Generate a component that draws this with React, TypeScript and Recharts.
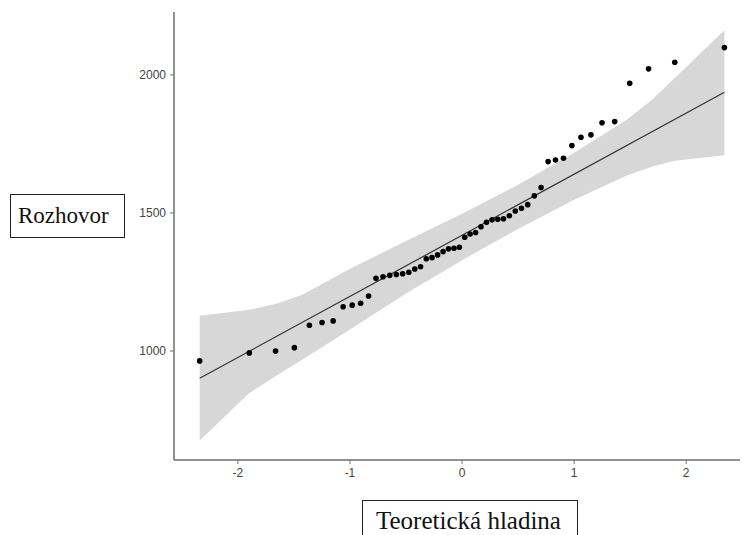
import React from "react"
import { ComposedChart, Area, Line, Scatter, XAxis, YAxis } from "recharts"

// theoretical normal quantiles (x) and sorted sample values (y)
const theoretical = [
  -2.341, -1.898, -1.664, -1.496, -1.362, -1.249, -1.15, -1.061, -0.98, -0.905,
  -0.834, -0.768, -0.705, -0.645, -0.586, -0.53, -0.475, -0.422, -0.37, -0.319,
  -0.268, -0.218, -0.169, -0.121, -0.072, -0.024, 0.024, 0.072, 0.121, 0.169,
  0.218, 0.268, 0.319, 0.37, 0.422, 0.475, 0.53, 0.586, 0.645, 0.705,
  0.768, 0.834, 0.905, 0.98, 1.061, 1.15, 1.249, 1.362, 1.496, 1.664,
  1.898, 2.341,
]
const rozhovor = [
  964, 993, 1000, 1012, 1093, 1103, 1109, 1160, 1166, 1173,
  1199, 1263, 1269, 1274, 1277, 1280, 1285, 1297, 1305, 1334,
  1338, 1348, 1360, 1370, 1372, 1376, 1412, 1424, 1429, 1450,
  1466, 1475, 1477, 1479, 1490, 1507, 1517, 1530, 1562, 1592,
  1686, 1692, 1698, 1744, 1774, 1783, 1827, 1831, 1970, 2022,
  2046, 2099,
]

// confidence band, read at a few x positions
const bandX = [-2.341, -1.898, -1.65, -1.42, -1.0, -0.5, 0, 0.5, 1.0, 1.47, 1.7, 1.898, 2.341]
const bandLower = [676, 848, 912, 970, 1078, 1208, 1329, 1442, 1548, 1636, 1668, 1689, 1709]
const bandUpper = [1128, 1149, 1172, 1205, 1298, 1398, 1497, 1602, 1718, 1838, 1912, 1989, 2162]

// reference line end points
const fitStart = 901
const fitEnd = 1937

const xTicks = [-2, -1, 0, 1, 2]
const yTicks = [1000, 1500, 2000]

const points = theoretical.map((x, i) => ({ x, y: rozhovor[i] }))
const bandRows = bandX.map((x, i) => ({
  x,
  band: [bandLower[i], bandUpper[i]],
  fit: i === 0 ? fitStart : i === bandX.length - 1 ? fitEnd : null,
}))

const AXIS = "#6e6e6e"
const tickStyle = { fill: "#444", fontSize: 12, fontFamily: "Liberation Sans, Arial, sans-serif" }

const Dot = (props: any) => <circle cx={props.cx} cy={props.cy} r={2.8} fill="#000" />

export default function App() {
  return (
    <div style={{ position: "absolute", left: 0, top: 0, width: 744, height: 535, background: "#fff", overflow: "hidden" }}>
      <ComposedChart width={744} height={535} data={bandRows} margin={{ top: 12, right: 4, left: 0, bottom: 0 }}>
        <XAxis
          type="number"
          dataKey="x"
          domain={[-2.57, 2.48]}
          ticks={xTicks}
          allowDataOverflow
          height={75}
          tickSize={4}
          tickMargin={4}
          axisLine={{ stroke: AXIS, strokeWidth: 1.5 }}
          tickLine={{ stroke: AXIS }}
          tick={tickStyle}
        />
        <YAxis
          type="number"
          domain={[605, 2228]}
          ticks={yTicks}
          allowDataOverflow
          width={174}
          tickSize={4}
          tickMargin={4}
          axisLine={{ stroke: AXIS, strokeWidth: 1.5 }}
          tickLine={{ stroke: AXIS }}
          tick={tickStyle}
        />
        <Area
          type="linear"
          dataKey="band"
          fill="#d7d7d7"
          fillOpacity={1}
          stroke="none"
          isAnimationActive={false}
        />
        <Line
          type="linear"
          dataKey="fit"
          stroke="#333"
          strokeWidth={1.2}
          dot={false}
          connectNulls
          isAnimationActive={false}
        />
        <Scatter data={points} dataKey="y" shape={Dot} isAnimationActive={false} />
      </ComposedChart>

      <div
        style={{
          position: "absolute",
          left: 10,
          top: 194,
          width: 115,
          height: 44,
          border: "1.5px solid #222",
          fontFamily: "Liberation Serif, Times New Roman, serif",
          fontSize: 23,
          lineHeight: "41px",
          paddingLeft: 7,
          boxSizing: "border-box",
          color: "#111",
        }}
      >
        Rozhovor
      </div>
      <div
        style={{
          position: "absolute",
          left: 362,
          top: 500,
          width: 216,
          height: 44,
          border: "1.5px solid #222",
          fontFamily: "Liberation Serif, Times New Roman, serif",
          fontSize: 25,
          lineHeight: "40px",
          paddingLeft: 13,
          boxSizing: "border-box",
          color: "#111",
        }}
      >
        Teoretická hladina
      </div>
    </div>
  )
}
